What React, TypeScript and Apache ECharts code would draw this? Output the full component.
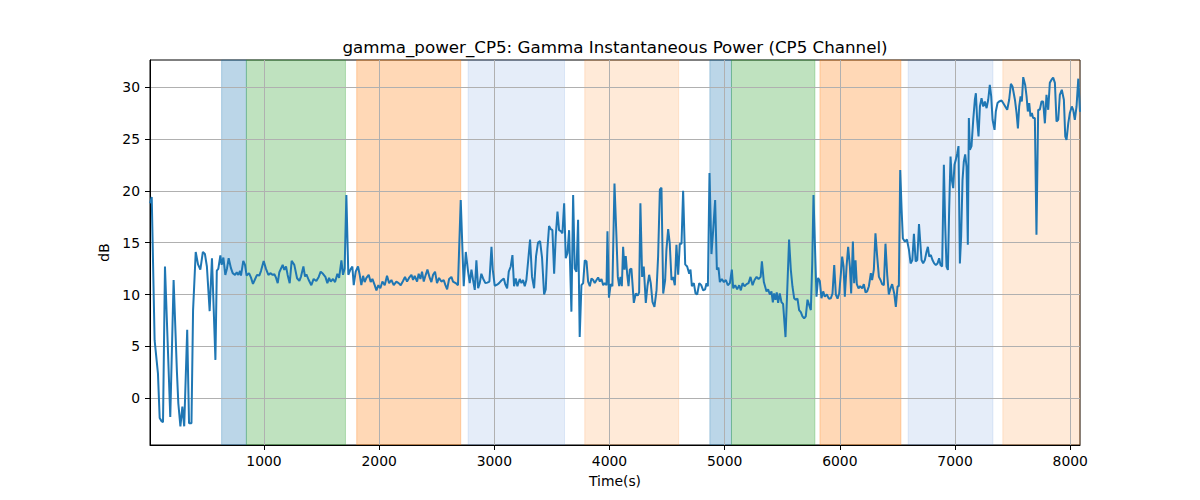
import React, { useEffect, useRef } from "react";
import * as echarts from "echarts";

const times = [
  10, 25, 50, 79, 94, 110, 123, 140, 163, 186, 215, 244, 256, 274, 291, 307, 333, 349, 370, 384,
  407, 427, 447, 469, 487, 504, 528, 548, 578, 590, 603, 621, 632, 647, 664, 679, 693, 713, 728, 748,
  763, 777, 792, 800, 820, 835, 849, 870, 887, 904, 922, 939, 959, 974, 997, 1017, 1038, 1055, 1075, 1090,
  1104, 1119, 1133, 1162, 1176, 1191, 1205, 1223, 1240, 1263, 1287, 1307, 1321, 1342, 1356,
  1368, 1388, 1411, 1431, 1454, 1475, 1492, 1512, 1533, 1550, 1565, 1579, 1599, 1617, 1637, 1652, 1672, 1686, 1700,
  1715, 1732, 1750, 1767, 1779, 1796, 1816, 1831, 1845, 1860, 1874, 1889, 1909, 1926, 1941, 1961, 1976, 1993, 2010,
  2028, 2048, 2068, 2086, 2106, 2126, 2149, 2169, 2187, 2207, 2224, 2242, 2259, 2280, 2294, 2308, 2329, 2343, 2358,
  2372, 2387, 2404, 2419, 2439, 2453, 2468, 2485, 2502, 2520, 2540, 2560, 2575, 2590, 2607, 2627, 2641, 2664, 2684,
  2708, 2734, 2752, 2772, 2786, 2801, 2815, 2830, 2844, 2859, 2873, 2887, 2902, 2922, 2939, 2957, 2975, 2986, 3003,
  3024, 3041, 3061, 3082, 3096, 3111, 3125, 3142, 3157, 3171, 3186, 3200, 3220, 3235, 3249, 3264, 3278, 3293, 3310,
  3327, 3345, 3362, 3379, 3397, 3414, 3432, 3446, 3461, 3475, 3490, 3504, 3519, 3533, 3548, 3562, 3577, 3591, 3606,
  3620, 3635, 3649, 3669, 3684, 3698, 3713, 3727, 3741, 3756, 3771, 3785, 3800, 3814, 3829, 3843, 3858, 3872, 3887,
  3901, 3916, 3930, 3945, 3959, 3974, 3982, 3995, 4010, 4025, 4043, 4060, 4072, 4084, 4095, 4107, 4118, 4130, 4141,
  4153, 4165, 4176, 4190, 4199, 4211, 4228, 4245, 4257, 4268, 4283, 4297, 4315, 4329, 4344, 4358, 4373, 4390, 4408,
  4422, 4437, 4451, 4466, 4483, 4494, 4509, 4523, 4538, 4552, 4567, 4581, 4596, 4610, 4625, 4639, 4657, 4674, 4692,
  4703, 4715, 4732, 4747, 4761, 4779, 4796, 4813, 4830, 4842, 4854, 4868, 4885, 4900, 4917, 4932, 4946, 4958, 4975,
  4993, 5010, 5027, 5045, 5062, 5074, 5091, 5108, 5126, 5140, 5155, 5172, 5190, 5207, 5224, 5242, 5259, 5277, 5294,
  5312, 5323, 5340, 5363, 5377, 5392, 5406, 5418, 5429, 5441, 5452, 5464, 5478, 5493, 5507, 5528, 5542, 5559, 5574,
  5588, 5603, 5617, 5632, 5646, 5661, 5675, 5690, 5704, 5719, 5733, 5748, 5760, 5771, 5782, 5797, 5811, 5826, 5840,
  5855, 5869, 5887, 5904, 5922, 5936, 5951, 5965, 5980, 5994, 6009, 6020, 6032, 6043, 6058, 6072, 6087, 6098, 6113,
  6124, 6136, 6147, 6162, 6176, 6194, 6208, 6223, 6237, 6252, 6269, 6280, 6295, 6309, 6324, 6339, 6353, 6367, 6382,
  6396, 6411, 6425, 6440, 6454, 6472, 6486, 6501, 6512, 6524, 6536, 6547, 6565, 6582, 6600, 6614, 6629, 6643, 6658,
  6672, 6687, 6709, 6723, 6738, 6752, 6764, 6776, 6790, 6804, 6819, 6833, 6848, 6862, 6874, 6888, 6903, 6914, 6926,
  6938, 6949, 6961, 6972, 6984, 6995, 7007, 7019, 7030, 7042, 7053, 7065, 7076, 7088, 7100, 7111, 7120, 7129, 7143,
  7158, 7172, 7181, 7192, 7204, 7216, 7230, 7245, 7259, 7274, 7288, 7302, 7314, 7326, 7343, 7354, 7369, 7383, 7404,
  7418, 7436, 7453, 7470, 7485, 7499, 7520, 7534, 7546, 7557, 7569, 7580, 7592, 7609, 7621, 7632, 7644, 7655, 7667,
  7678, 7693, 7707, 7722, 7736, 7751, 7765, 7780, 7794, 7809, 7823, 7838, 7852, 7867, 7881, 7896, 7910, 7927, 7945,
  7957, 7968, 7983, 7997, 8014, 8026, 8040, 8055, 8070, 8085,
];

const powerDb = [
  18.8, 19.4, 5.6, 2.4, -1.9, -2.2, -2.3, 12.7, 5.5, -1.8, 11.4, 2.5, -0.5, -2.7, -0.8, -2.7, 6.6, -2.4, -2.4, 8.5,
  14.1, 12.9, 12.4, 14.1, 13.9, 12.7, 8.4, 13.5, 3.7, 12.3, 12.47, 13.76, 12.86, 13.56, 11.89, 12.54, 13.5, 12.54, 12.06, 11.89,
  12.15, 11.89, 12.28, 11.83, 13.24, 12.86, 11.83, 12.06, 11.63, 11.02, 11.47, 11.89, 11.83, 12.28, 13.24, 12.47, 11.89, 12.06, 11.89, 11.95,
  11.63, 11.09, 12.15, 12.86, 12.38, 12.7, 11.89, 11.09, 13.24, 12.86, 11.57, 11.31, 11.73, 12.7, 11.73,
  11.95, 11.4, 10.9, 11.5, 11.3, 11.7, 12.2, 12.0, 11.7, 11.1, 11.6, 11.25, 11.5, 11.2, 12.0, 11.6, 13.3, 11.9, 12.5,
  19.6, 11.9, 12.4, 12.7, 10.9, 12.2, 12.7, 11.9, 10.9, 11.8, 11.2, 11.6, 11.9, 11.2, 11.5, 10.9, 10.4, 10.9, 10.6,
  11.25, 10.9, 11.8, 11.1, 11.4, 10.9, 11.25, 11.1, 10.9, 11.3, 11.7, 11.25, 11.6, 11.9, 11.4, 11.8, 11.25, 12.0, 11.5,
  12.2, 11.25, 11.9, 12.4, 11.6, 11.2, 11.9, 12.2, 11.1, 11.6, 11.25, 11.4, 10.9, 10.5, 11.5, 11.7, 11.25, 11.1, 10.9,
  19.1, 10.8, 14.1, 12.2, 11.1, 12.4, 11.4, 10.45, 13.3, 10.6, 11.1, 12.0, 11.55, 11.1, 11.15, 11.25, 14.6, 12.4, 10.85,
  10.95, 11.1, 11.35, 11.55, 10.95, 10.6, 12.2, 12.7, 13.8, 10.8, 11.55, 10.8, 11.5, 11.1, 11.4, 10.8, 11.4, 13.2, 15.3,
  11.7, 10.6, 13.7, 15.0, 15.15, 13.55, 10.0, 10.5, 14.4, 16.6, 16.3, 16.2, 12.0, 15.6, 18.0, 16.2, 16.1, 15.9, 18.8,
  13.5, 14.0, 16.2, 8.35, 19.6, 12.5, 12.2, 17.2, 5.9, 10.9, 11.1, 13.3, 13.2, 11.25, 10.8, 11.55, 11.4, 11.1, 11.4,
  11.65, 11.25, 11.5, 10.9, 11.1, 10.9, 16.1, 9.7, 11.0, 10.8, 20.7, 15.6, 11.7, 10.8, 11.7, 10.8, 14.6, 12.4, 13.7,
  12.0, 10.8, 12.4, 12.5, 11.1, 9.2, 10.1, 9.9, 10.2, 18.8, 11.7, 12.7, 9.2, 10.8, 11.9, 11.1, 9.3, 8.8, 10.4,
  13.7, 20.1, 20.3, 10.1, 11.4, 14.3, 16.3, 14.9, 11.4, 11.7, 10.9, 14.8, 11.9, 14.9, 14.9, 20.0, 12.9, 12.7, 12.0,
  12.4, 10.8, 11.1, 10.1, 10.0, 11.1, 10.9, 10.4, 10.5, 11.1, 10.8, 21.7, 13.9, 16.2, 19.1, 12.4, 12.6, 11.2, 11.5,
  11.2, 11.4, 10.9, 11.1, 12.4, 10.6, 10.9, 10.5, 10.9, 10.4, 11.1, 10.8, 11.0, 11.1, 11.7, 10.9, 11.4, 11.7, 11.5,
  11.7, 13.2, 11.2, 10.3, 10.5, 10.0, 10.3, 9.25, 10.1, 9.5, 10.2, 9.2, 10.1, 9.25, 9.1, 5.9, 10.1, 15.3, 12.4,
  10.8, 9.65, 9.5, 9.6, 8.5, 8.3, 7.9, 7.7, 7.9, 9.5, 9.0, 8.5, 13.0, 19.6, 15.3, 9.8, 11.6, 11.3, 9.65,
  10.3, 9.8, 10.0, 9.6, 9.65, 10.1, 12.85, 10.0, 9.6, 10.1, 12.05, 13.65, 12.7, 9.8, 12.7, 14.6, 12.7, 10.1, 15.1,
  11.1, 13.3, 11.0, 10.6, 10.8, 10.6, 11.0, 10.2, 10.3, 10.8, 12.05, 11.4, 12.4, 15.9, 13.65, 11.7, 11.4, 11.0, 10.9,
  14.9, 11.9, 10.0, 10.6, 11.0, 10.1, 8.8, 10.8, 10.8, 22.0, 18.2, 15.4, 15.1, 15.3, 14.3, 13.0, 13.3, 15.85, 13.2,
  13.3, 16.8, 13.33, 13.0, 13.33, 14.1, 14.6, 13.65, 13.8, 13.33, 13.0, 12.85, 13.0, 13.5, 12.85, 12.7, 22.5, 16.9, 12.7,
  12.37, 18.2, 23.3, 21.05, 20.25, 22.5, 23.0, 23.6, 24.3, 13.0, 15.6, 21.05, 22.8, 23.5, 22.3, 14.8, 27.0, 23.95, 24.3,
  26.84, 28.77, 29.4, 26.84, 25.23, 28.12, 28.93, 28.12, 28.6, 27.96, 28.77, 30.2, 29.1, 26.84, 25.87, 27.64, 28.45, 28.6, 28.7,
  28.45, 28.12, 27.8, 28.77, 30.3, 30.05, 28.77, 27.5, 26.0, 28.12, 29.1, 28.6, 30.95, 30.2, 29.1, 27.64, 28.45, 27.16, 27.5,
  27.0, 27.0, 15.75, 27.8, 27.8, 28.6, 28.6, 26.5, 29.25, 27.8, 30.4, 30.7, 30.9, 30.4, 26.68, 26.84, 29.25, 29.73, 28.77,
  25.23, 24.91, 26.5, 27.5, 28.12, 27.8, 26.84, 28.12, 30.8, 27.6,
];

const regionStarts = [632, 847, 1805, 2772, 3785, 4871, 5059, 5827, 6593, 7415];
const regionEnds = [847, 1707, 2708, 3609, 4600, 5059, 5783, 6530, 7329, 8085];
const regionKinds = ["blue", "green", "orange", "lightblue", "lightorange", "blue", "green", "orange", "lightblue", "lightorange"];

const xTicks = [1000, 2000, 3000, 4000, 5000, 6000, 7000, 8000];
const yTicks = [0, 5, 10, 15, 20, 25, 30];

const kindColor: Record<string, string> = {
  blue: "rgba(31,119,180,0.3)",
  green: "rgba(44,160,44,0.3)",
  orange: "rgba(255,127,14,0.3)",
  lightblue: "rgba(70,130,210,0.14)",
  lightorange: "rgba(255,127,14,0.16)",
};

export default function App() {
  const ref = useRef<HTMLDivElement>(null);
  useEffect(() => {
    if (!ref.current) return;
    const chart = echarts.init(ref.current, null, { renderer: "svg" });
    const font = "DejaVu Sans";
    const areas = regionStarts.map((s, i) => [
      {
        xAxis: s,
        itemStyle: { color: kindColor[regionKinds[i]], borderColor: kindColor[regionKinds[i]], borderWidth: 1 },
      },
      { xAxis: regionEnds[i] },
    ]);
    const plain = (v: number) => String(v);
    chart.setOption({
      animation: false,
      backgroundColor: "#ffffff",
      title: {
        text: "gamma_power_CP5: Gamma Instantaneous Power (CP5 Channel)",
        left: 615,
        top: 38,
        padding: 0,
        textAlign: "center",
        textStyle: { fontFamily: font, fontSize: 16.7, fontWeight: "normal", color: "#000" },
      },
      grid: {
        left: 150,
        right: 120,
        top: 60,
        bottom: 55,
        show: true,
        borderColor: "#000",
        borderWidth: 1,
        backgroundColor: "transparent",
      },
      xAxis: {
        type: "value",
        min: 10,
        max: 8085,
        minInterval: 1000,
        maxInterval: 1000,
        z: 2,
        name: "Time(s)",
        nameLocation: "middle",
        nameGap: 29,
        nameTextStyle: { fontFamily: font, fontSize: 13.9, color: "#000" },
        axisLine: { show: true, onZero: false, lineStyle: { color: "#000", width: 1 } },
        axisTick: { show: true, length: 5, lineStyle: { color: "#000", width: 1 }, customValues: xTicks },
        axisLabel: {
          fontFamily: font,
          fontSize: 13.9,
          color: "#000",
          margin: 9,
          formatter: plain,
          customValues: xTicks,
        },
        splitLine: { show: true, lineStyle: { color: "#b0b0b0", width: 1 } },
      },
      yAxis: {
        type: "value",
        min: -4.5,
        max: 32.6,
        minInterval: 5,
        maxInterval: 5,
        z: 2,
        name: "dB",
        nameLocation: "middle",
        nameGap: 33,
        nameRotate: 90,
        nameTextStyle: { fontFamily: font, fontSize: 13.9, color: "#000" },
        axisLine: { show: true, onZero: false, lineStyle: { color: "#000", width: 1 } },
        axisTick: { show: true, length: 5, lineStyle: { color: "#000", width: 1 }, customValues: yTicks },
        axisLabel: {
          fontFamily: font,
          fontSize: 13.9,
          color: "#000",
          margin: 10,
          formatter: plain,
          customValues: yTicks,
        },
        splitLine: { show: true, lineStyle: { color: "#b0b0b0", width: 1 } },
      },
      series: [
        {
          type: "line",
          z: 3,
          data: times.map((t, i) => [t, powerDb[i]]),
          showSymbol: false,
          symbol: "none",
          lineStyle: { color: "#1f77b4", width: 2 },
          itemStyle: { color: "#1f77b4" },
          markArea: { silent: true, z: 1, data: areas },
        },
      ],
    });
    return () => chart.dispose();
  }, []);
  return <div ref={ref} style={{ position: "fixed", left: 0, top: 0, width: 1200, height: 500 }} />;
}
